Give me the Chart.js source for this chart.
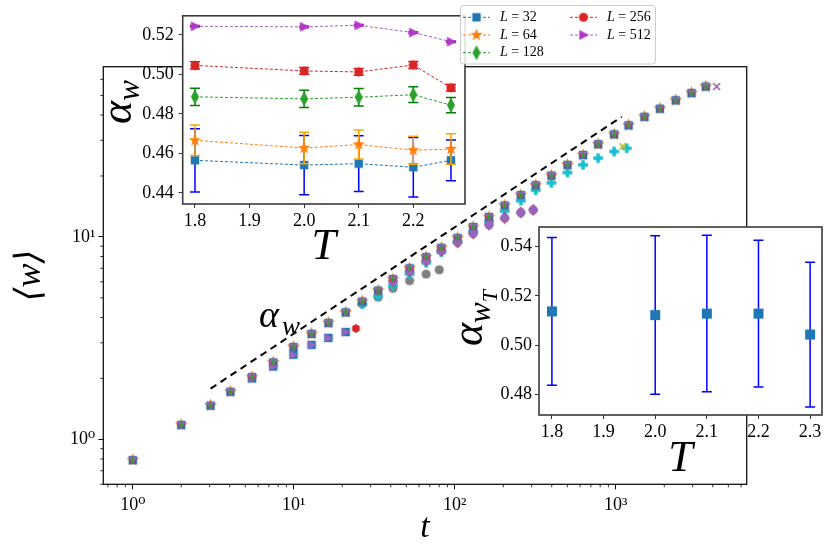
<!DOCTYPE html>
<html>
<head>
<meta charset="utf-8">
<script src="https://cdn.jsdelivr.net/npm/chart.js@4.4.0/dist/chart.umd.min.js"></script>
<style>
  html, body { margin: 0; padding: 0; background: #fff; }
  #wrap { position: relative; width: 830px; height: 554px; }
  #wrap canvas { position: absolute; left: 0; top: 0; }
</style>
</head>
<body>
<div id="wrap">
  <canvas id="mainChart" width="830" height="554"></canvas>
  <canvas id="insetA" width="830" height="554"></canvas>
  <canvas id="insetB" width="830" height="554"></canvas>
</div>
<script>
// ---- main panel: <w> vs t ----
const tSteps = [1, 2, 3.04, 4.04, 5.5, 7.45, 9.95, 12.9, 16.4, 21.0, 26.6, 33.4, 41.3, 52.4, 66.4,
  82.5, 104, 130, 163, 204, 257, 318, 398, 501, 626, 777, 976, 1200, 1505, 1878, 2356, 2953, 3619];
const wUpper = [0.79, 1.18, 1.47, 1.72, 2.03, 2.40, 2.86, 3.32, 3.76, 4.24, 4.80, 5.43, 6.19, 7.00, 7.95,
  8.84, 9.89, 11.2, 12.55, 14.3, 16.1, 18.0, 20.1, 22.7, 25.4, 28.7, 32.1, 35.6, 39.2, 43.0, 47.3, 51.4, 55.3];
const tDev = [5.5, 7.45, 9.95, 12.9, 16.4, 21.0];
const wDev = [2.0, 2.29, 2.62, 2.93, 3.17, 3.39];
const tHex = [24.3];
const wHex = [3.53];
const tDiam = [41.3, 52.4, 66.4, 82.5, 104, 130, 163, 204, 257, 307];
const wDiam = [6.05, 6.8, 7.65, 8.55, 9.4, 10.4, 11.5, 12.4, 13.2, 13.6];
const tCyan = [26.6, 33.4, 41.3, 52.4, 66.4, 82.5, 104, 130, 163, 204, 257, 318, 398, 501, 626, 777, 976, 1169];
const wCyan = [4.65, 5.1, 5.75, 6.55, 7.45, 8.4, 9.45, 10.6, 11.9, 13.4, 15.1, 17.0, 18.5, 20.8, 22.7, 24.5, 26.4, 27.4];
const tGray = [26.6, 33.4, 41.3, 52.4, 66.4, 80];
const wGray = [4.68, 5.04, 5.57, 6.08, 6.55, 6.88];
const tOlive = [1104];
const wOlive = [28.0];
const tLast = [4230];
const wLast = [55.3];
const fitT = [3.04, 1088];
const fitW = [1.78, 39.2];
const tMajor = [1, 10, 100, 1000];
const wMajor = [1, 10];

// ---- top-left inset: alpha_w vs T for each L ----
const Lsizes = [32, 64, 128, 256, 512];
const T_inset = [1.8, 2.0, 2.1, 2.2, 2.269];
const aw32 = [0.4565, 0.4541, 0.4548, 0.4530, 0.4565];
const err32 = [0.0160, 0.0150, 0.0141, 0.0150, 0.0103];
const aw64 = [0.4666, 0.4627, 0.4645, 0.4616, 0.4622];
const err64 = [0.0077, 0.0080, 0.0073, 0.0071, 0.0077];
const aw128 = [0.4886, 0.4876, 0.4884, 0.4897, 0.4844];
const err128 = [0.0044, 0.0044, 0.0044, 0.0040, 0.0039];
const aw256 = [0.5045, 0.5017, 0.5012, 0.5047, 0.4932];
const err256 = [0.0018, 0.0017, 0.0017, 0.0018, 0.0017];
const aw512 = [0.5243, 0.5240, 0.5248, 0.5211, 0.5165];
const err512 = [0.0004, 0.0004, 0.0004, 0.0004, 0.0004];
const insetTTicks = [1.8, 1.9, 2.0, 2.1, 2.2];
const insetAwTicks = [0.44, 0.46, 0.48, 0.50, 0.52];

// ---- right inset: alpha_wT vs T ----
const T_fit = [1.8, 2.0, 2.1, 2.2, 2.3];
const awT = [0.5137, 0.5122, 0.5128, 0.5128, 0.5043];
const errT = [0.0300, 0.0322, 0.0318, 0.0298, 0.0294];
const rightTTicks = [1.8, 1.9, 2.0, 2.1, 2.2, 2.3];
const rightAwTicks = [0.48, 0.50, 0.52, 0.54];

const C = {blue: '#1f77b4', orange: '#ff7f0e', green: '#2ca02c', red: '#d62728', purple: '#9467bd',
  brown: '#8c564b', pink: '#e377c2', gray: '#7f7f7f', olive: '#bcbd22', cyan: '#17becf'};
const FAM = '"Liberation Serif", "DejaVu Serif", "DejaVu Sans", serif';
Chart.defaults.font.family = FAM;
Chart.defaults.color = '#000';

const pts = (xs, ys) => xs.map((x, i) => ({x: x, y: ys[i]}));
const sup = {0: '\u2070', 1: '\u00b9', 2: '\u00b2', 3: '\u00b3'};
const powLabel = v => '10' + sup[Math.round(Math.log10(v))];

// matplotlib-like filled markers as little canvases
function marker(shape, color, size) {
  const c = document.createElement('canvas');
  c.width = size; c.height = size;
  const g = c.getContext('2d');
  const m = size / 2, r = size / 2 - 0.6;
  g.fillStyle = color; g.strokeStyle = color;
  const poly = p => {
    g.beginPath();
    p.forEach(([a, b], i) => i ? g.lineTo(m + a * r, m + b * r) : g.moveTo(m + a * r, m + b * r));
    g.closePath(); g.fill();
  };
  if (shape === 'square') poly([[-0.78, -0.78], [0.78, -0.78], [0.78, 0.78], [-0.78, 0.78]]);
  else if (shape === 'circle') { g.beginPath(); g.arc(m, m, r * 0.85, 0, Math.PI * 2); g.fill(); }
  else if (shape === 'star') {
    const p = [];
    for (let k = 0; k < 10; k++) {
      const a = -Math.PI / 2 + k * Math.PI / 5, q = k % 2 ? 0.42 : 1;
      p.push([q * Math.cos(a), q * Math.sin(a)]);
    }
    poly(p);
  }
  else if (shape === 'thin') poly([[0, -1], [0.55, 0], [0, 1], [-0.55, 0]]);
  else if (shape === 'diamond') poly([[0, -1], [0.8, 0], [0, 1], [-0.8, 0]]);
  else if (shape === 'right') poly([[0.95, 0], [-0.7, -0.85], [-0.7, 0.85]]);
  else if (shape === 'down') poly([[0, 0.95], [-0.85, -0.7], [0.85, -0.7]]);
  else if (shape === 'hex') {
    const p = [];
    for (let k = 0; k < 6; k++) { const a = -Math.PI / 2 + k * Math.PI / 3; p.push([0.9 * Math.cos(a), 0.9 * Math.sin(a)]); }
    poly(p);
  }
  else if (shape === 'plus') {
    const t = 0.33;
    poly([[-t, -0.9], [t, -0.9], [t, -t], [0.9, -t], [0.9, t], [t, t], [t, 0.9], [-t, 0.9], [-t, t], [-0.9, t], [-0.9, -t], [-t, -t]]);
  }
  else if (shape === 'x') {
    g.lineWidth = 1.6; g.beginPath();
    g.moveTo(m - 0.7 * r, m - 0.7 * r); g.lineTo(m + 0.7 * r, m + 0.7 * r);
    g.moveTo(m + 0.7 * r, m - 0.7 * r); g.lineTo(m - 0.7 * r, m + 0.7 * r);
    g.stroke();
  }
  return c;
}

const mathFont = (size, italic) => (italic ? 'italic ' : '') + size + 'px ' + FAM;

function rotLabel(ctx, bx, cy, parts) {
  ctx.save();
  ctx.fillStyle = '#000'; ctx.textBaseline = 'alphabetic'; ctx.textAlign = 'left';
  let total = 0;
  parts.forEach(p => { ctx.font = mathFont(p.size, true); p.w = ctx.measureText(p.text).width; total += p.w; });
  ctx.translate(bx, cy); ctx.rotate(-Math.PI / 2);
  let x = -total / 2;
  parts.forEach(p => { ctx.font = mathFont(p.size, true); ctx.fillText(p.text, x, p.dy); x += p.w; });
  ctx.restore();
}

// plugins
const errorBars = {
  id: 'errorBars',
  beforeDatasetDraw(chart, args) {
    const ds = chart.data.datasets[args.index];
    if (!ds.errors) return;
    const ctx = chart.ctx, xs = chart.scales.x, ys = chart.scales.y;
    ctx.save();
    ctx.strokeStyle = ds.errColor; ctx.lineWidth = 1.5; ctx.setLineDash([]);
    ds.data.forEach((p, i) => {
      const e = ds.errors[i], px = xs.getPixelForValue(p.x);
      const top = ys.getPixelForValue(p.y + e), bot = ys.getPixelForValue(p.y - e);
      ctx.beginPath();
      ctx.moveTo(px, top); ctx.lineTo(px, bot);
      ctx.moveTo(px - 5, top); ctx.lineTo(px + 5, top);
      ctx.moveTo(px - 5, bot); ctx.lineTo(px + 5, bot);
      ctx.stroke();
    });
    ctx.restore();
  }
};

const panel = (fill, frameColor, frameWidth) => ({
  id: 'panel',
  beforeDraw(chart) {
    if (!fill) return;
    const a = chart.chartArea, ctx = chart.ctx;
    ctx.save(); ctx.fillStyle = '#fff'; ctx.fillRect(a.left, a.top, a.right - a.left, a.bottom - a.top); ctx.restore();
  },
  afterDatasetsDraw(chart) {
    const a = chart.chartArea, ctx = chart.ctx;
    ctx.save(); ctx.strokeStyle = frameColor; ctx.lineWidth = frameWidth;
    ctx.strokeRect(a.left, a.top, a.right - a.left, a.bottom - a.top); ctx.restore();
  }
});

function minorTicks(lo, hi) {
  const out = [];
  for (let e = -1; e <= 4; e++) for (let k = 2; k <= 9; k++) {
    const v = k * Math.pow(10, e);
    if (v > lo && v < hi) out.push(v);
  }
  return out;
}

const logMinor = {
  id: 'logMinor',
  afterDatasetsDraw(chart) {
    const ctx = chart.ctx, xs = chart.scales.x, ys = chart.scales.y, a = chart.chartArea;
    ctx.save(); ctx.strokeStyle = '#000'; ctx.lineWidth = 0.8; ctx.beginPath();
    minorTicks(xs.min, xs.max).forEach(v => { const p = xs.getPixelForValue(v); ctx.moveTo(p, a.bottom); ctx.lineTo(p, a.bottom + 3); });
    minorTicks(ys.min, ys.max).forEach(v => { const p = ys.getPixelForValue(v); ctx.moveTo(a.left, p); ctx.lineTo(a.left - 3, p); });
    ctx.stroke(); ctx.restore();
  }
};

const mainNote = {
  id: 'mainNote',
  afterDatasetsDraw(chart) {
    const ctx = chart.ctx;
    ctx.save(); ctx.fillStyle = '#000'; ctx.textBaseline = 'alphabetic';
    ctx.font = mathFont(38, true); ctx.fillText('\u03b1', 259, 327);
    ctx.font = mathFont(27, true); ctx.fillText('w', 282, 335);
    ctx.restore();
  }
};

const insetALabels = {
  id: 'insetALabels',
  afterDraw(chart) {
    const ctx = chart.ctx;
    rotLabel(ctx, 131, 102, [{text: '\u03b1', size: 44, dy: 0}, {text: 'w', size: 31, dy: 8}]);
    // legend box
    ctx.save();
    ctx.beginPath(); ctx.roundRect(460.5, 5.5, 195, 58.5, 3);
    ctx.fillStyle = 'rgba(255,255,255,0.85)'; ctx.fill();
    ctx.strokeStyle = '#cccccc'; ctx.lineWidth = 1; ctx.stroke();
    const rows = [17.3, 35, 52.7];
    chart.data.datasets.forEach((ds, i) => {
      const x0 = i < 3 ? 463 : 570, y = rows[i % 3];
      ctx.strokeStyle = ds.borderColor; ctx.lineWidth = 1; ctx.setLineDash([3, 2]);
      ctx.beginPath(); ctx.moveTo(x0, y); ctx.lineTo(x0 + 27, y); ctx.stroke();
      ctx.setLineDash([]);
      const mk = ds.pointStyle;
      ctx.drawImage(mk, x0 + 13.5 - mk.width / 2, y - mk.height / 2);
      ctx.fillStyle = '#000'; ctx.textBaseline = 'middle';
      ctx.font = mathFont(14, true); ctx.fillText('L', x0 + 37, y);
      const wl = ctx.measureText('L').width;
      ctx.font = mathFont(14, false); ctx.fillText(' = ' + ds.label.split('=')[1].trim(), x0 + 37 + wl, y);
    });
    ctx.restore();
  }
};

const insetBLabels = {
  id: 'insetBLabels',
  afterDraw(chart) {
    rotLabel(chart.ctx, 481.7, 318, [{text: '\u03b1', size: 44, dy: 0}, {text: 'w', size: 31, dy: 8}, {text: 'T', size: 22, dy: 15}]);
  }
};

function fixedTicks(list) { return s => { s.ticks = list.map(v => ({value: v})); }; }

// ---------- main chart ----------
const mainSets = [
  {data: pts(fitT, fitW), showLine: true, borderColor: '#000', borderWidth: 2, borderDash: [7, 5], pointRadius: 0},
  {data: pts(tGray, wGray), pointStyle: marker('circle', C.gray, 12)},
  {data: pts(tCyan, wCyan), pointStyle: marker('plus', C.cyan, 12)},
  {data: pts(tSteps, wUpper), pointStyle: marker('star', C.orange, 15)},
  {data: pts(tSteps, wUpper), pointStyle: marker('square', C.blue, 12)},
  {data: pts(tDiam, wDiam), pointStyle: marker('diamond', C.red, 13)},
  {data: pts(tDiam, wDiam), pointStyle: marker('circle', C.purple, 12)},
  {data: pts(tDev, wDev), pointStyle: marker('square', C.blue, 12)},
  {data: pts(tDev, wDev), pointStyle: marker('right', C.purple, 12)},
  {data: pts(tHex, wHex), pointStyle: marker('hex', C.red, 11)},
  {data: pts(tSteps, wUpper), pointStyle: marker('hex', C.red, 9)},
  {data: pts(tSteps, wUpper), pointStyle: marker('down', C.purple, 11)},
  {data: pts(tSteps, wUpper), pointStyle: marker('thin', C.green, 8)},
  {data: pts(tOlive, wOlive), pointStyle: marker('x', C.olive, 10)},
  {data: pts(tLast, wLast), pointStyle: marker('x', C.purple, 11)}
];
mainSets.forEach((d, i) => { d.order = mainSets.length - i; if (d.pointRadius === undefined) d.pointRadius = 4; });

new Chart(document.getElementById('mainChart'), {
  type: 'scatter',
  data: {datasets: mainSets},
  options: {
    responsive: false, animation: false, events: [],
    layout: {padding: {left: 0, top: 66.7, right: 83.3, bottom: 0}},
    plugins: {legend: {display: false}, tooltip: {enabled: false}},
    scales: {
      x: {
        type: 'logarithmic', min: 0.656, max: 6500,
        afterFit: s => { s.height = 69.7; },
        afterBuildTicks: fixedTicks(tMajor),
        ticks: {callback: powLabel, font: {size: 18}, padding: 5, maxRotation: 0, autoSkip: false, color: '#000'},
        grid: {drawOnChartArea: false, tickLength: 5, color: '#000'},
        border: {display: false},
        title: {display: true, text: 't', font: {size: 34, style: 'italic'}, color: '#000', padding: {top: 0, bottom: 6}}
      },
      y: {
        type: 'logarithmic', min: 0.636, max: 69.3,
        afterFit: s => { s.width = 103.3; },
        afterBuildTicks: fixedTicks(wMajor),
        ticks: {callback: powLabel, font: {size: 18}, padding: 3, autoSkip: false, color: '#000'},
        grid: {drawOnChartArea: false, tickLength: 5, color: '#000'},
        border: {display: false},
        title: {display: true, text: '\u27e8w\u27e9', font: {size: 36, style: 'italic'}, color: '#000', padding: {top: 9, bottom: 0}}
      }
    }
  },
  plugins: [panel(false, '#111', 1.3), logMinor, mainNote]
});

// ---------- inset A ----------
const insetSeries = [
  {vals: aw32, errs: err32, color: C.blue, err: '#0000ff', mk: marker('square', C.blue, 12)},
  {vals: aw64, errs: err64, color: C.orange, err: '#ffa500', mk: marker('star', C.orange, 14)},
  {vals: aw128, errs: err128, color: C.green, err: '#008000', mk: marker('thin', C.green, 16)},
  {vals: aw256, errs: err256, color: C.red, err: '#ff0000', mk: marker('circle', C.red, 12)},
  {vals: aw512, errs: err512, color: C.purple, err: '#c000c0', mk: marker('right', '#b03ac8', 13)}
];
const insetSets = insetSeries.map((s, i) => ({
  label: 'L = ' + Lsizes[i],
  data: pts(T_inset, s.vals),
  errors: s.errs, errColor: s.err,
  showLine: true, borderColor: s.color, borderWidth: 1, borderDash: [3, 2],
  pointStyle: s.mk, pointRadius: 4,
  order: insetSeries.length - i
}));

new Chart(document.getElementById('insetA'), {
  type: 'scatter',
  data: {datasets: insetSets},
  options: {
    responsive: false, animation: false, events: [],
    layout: {padding: {left: 0, top: 5, right: 365, bottom: 270}},
    plugins: {legend: {display: false}, tooltip: {enabled: false}},
    scales: {
      x: {
        type: 'linear', min: 1.7775, max: 2.2947,
        afterFit: s => { s.height = 80; },
        afterBuildTicks: fixedTicks(insetTTicks),
        ticks: {callback: v => v.toFixed(1), font: {size: 18}, padding: 2, maxRotation: 0, autoSkip: false, color: '#000'},
        grid: {drawOnChartArea: false, tickLength: 4, color: '#333'},
        border: {display: false},
        title: {display: true, text: 'T', font: {size: 44, style: 'italic'}, color: '#000', padding: {top: 0, bottom: 10}}
      },
      y: {
        type: 'linear', min: 0.4344, max: 0.5296,
        afterFit: s => { s.width = 182.7; },
        afterBuildTicks: fixedTicks(insetAwTicks),
        ticks: {callback: v => v.toFixed(2), font: {size: 18}, padding: 5, autoSkip: false, color: '#000'},
        grid: {drawOnChartArea: false, tickLength: 4, color: '#333'},
        border: {display: false}
      }
    }
  },
  plugins: [panel(true, '#3a3a3a', 1.6), errorBars, insetALabels]
});

// ---------- inset B ----------
new Chart(document.getElementById('insetB'), {
  type: 'scatter',
  data: {datasets: [{
    label: 'alpha_wT',
    data: pts(T_fit, awT),
    errors: errT, errColor: '#0000ff',
    pointStyle: marker('square', C.blue, 14), pointRadius: 4
  }]},
  options: {
    responsive: false, animation: false, events: [],
    layout: {padding: {left: 0, top: 227, right: 8, bottom: 64}},
    plugins: {legend: {display: false}, tooltip: {enabled: false}},
    scales: {
      x: {
        type: 'linear', min: 1.775, max: 2.323,
        afterFit: s => { s.height = 75; },
        afterBuildTicks: fixedTicks(rightTTicks),
        ticks: {callback: v => v.toFixed(1), font: {size: 18}, padding: 2, maxRotation: 0, autoSkip: false, color: '#000'},
        grid: {drawOnChartArea: false, tickLength: 4, color: '#333'},
        border: {display: false},
        title: {display: true, text: 'T', font: {size: 44, style: 'italic'}, color: '#000', padding: {top: 0, bottom: 4}}
      },
      y: {
        type: 'linear', min: 0.4716, max: 0.548,
        afterFit: s => { s.width = 539; },
        afterBuildTicks: fixedTicks(rightAwTicks),
        ticks: {callback: v => v.toFixed(2), font: {size: 18}, padding: 3, autoSkip: false, color: '#000'},
        grid: {drawOnChartArea: false, tickLength: 4, color: '#333'},
        border: {display: false}
      }
    }
  },
  plugins: [panel(true, '#3a3a3a', 1.6), errorBars, insetBLabels]
});
</script>
</body>
</html>
